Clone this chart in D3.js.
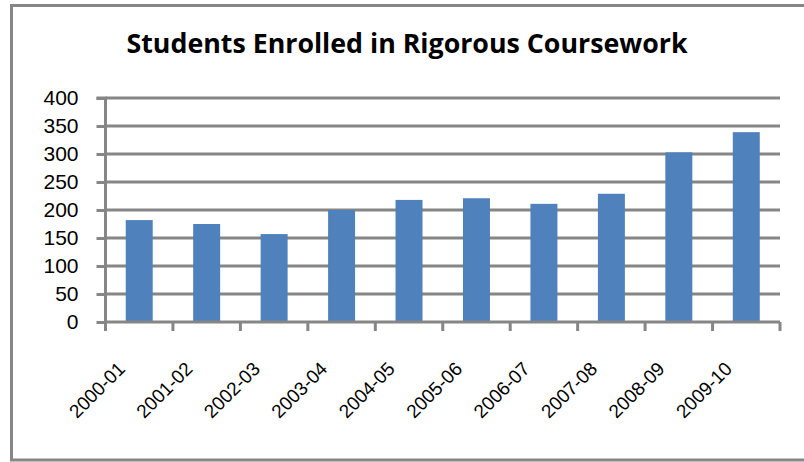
<!DOCTYPE html>
<html>
<head>
<meta charset="utf-8">
<script src="https://cdn.jsdelivr.net/npm/d3@7"></script>
<style>
  html, body { margin: 0; padding: 0; background: #fff; }
  svg { display: block; }
</style>
</head>
<body>
<svg id="chart" width="804" height="462"></svg>
<script>
const title = "Students Enrolled in Rigorous Coursework";
const categories = ["2000-01","2001-02","2002-03","2003-04","2004-05","2005-06","2006-07","2007-08","2008-09","2009-10"];
const values = [182, 175, 157, 200, 218, 221, 211, 229, 303, 339];
const yTicks = [0, 50, 100, 150, 200, 250, 300, 350, 400];

(function () {
const svg = d3.select("#chart");
const gray = "#868686";
const pLeft = 105.5, pRight = 780, pTop = 98, pBottom = 322;

// outer border
svg.append("rect")
  .attr("x", 11.5).attr("y", 5.5)
  .attr("width", 800).attr("height", 454.5)
  .attr("fill", "#fff").attr("stroke", gray).attr("stroke-width", 3);

const x = d3.scaleBand().domain(categories).range([pLeft, pRight]).paddingInner(0).paddingOuter(0);
const y = d3.scaleLinear().domain([0, 400]).range([pBottom, pTop]);

// gridlines
svg.append("g").selectAll("line").data(yTicks.filter(d => d > 0)).join("line")
  .attr("x1", pLeft).attr("x2", pRight)
  .attr("y1", d => y(d)).attr("y2", d => y(d))
  .attr("stroke", gray).attr("stroke-width", 3);

// bars
const bw = x.bandwidth() * 0.4;
svg.append("g").selectAll("rect").data(values).join("rect")
  .attr("x", (d, i) => x(categories[i]) + (x.bandwidth() - bw) / 2)
  .attr("width", bw)
  .attr("y", d => y(d))
  .attr("height", d => y(0) - y(d))
  .attr("fill", "#4F81BD");

// y axis
const yAxis = d3.axisLeft(y).tickValues(yTicks).tickSize(9).tickPadding(18).tickFormat(d3.format("d"));
const gy = svg.append("g").attr("transform", `translate(${pLeft},0)`).call(yAxis);
gy.select(".domain").attr("stroke", gray).attr("stroke-width", 3).attr("d", `M-9,${pTop}H0V${pBottom}`);
gy.selectAll(".tick line").attr("stroke", gray).attr("stroke-width", 3);
gy.selectAll(".tick text")
  .attr("fill", "#000")
  .style("font-family", "'Liberation Sans', Arial, sans-serif")
  .style("font-size", "21px");

// x axis
const boundaries = categories.map(c => x(c)).concat([pRight]);
const gx = svg.append("g");
gx.append("line").attr("x1", pLeft).attr("x2", pRight).attr("y1", pBottom).attr("y2", pBottom)
  .attr("stroke", gray).attr("stroke-width", 3);
gx.selectAll("line.tk").data(boundaries).join("line").attr("class", "tk")
  .attr("x1", d => d).attr("x2", d => d).attr("y1", pBottom).attr("y2", pBottom + 9)
  .attr("stroke", gray).attr("stroke-width", 3);
gx.selectAll("text").data(categories).join("text")
  .attr("transform", d => `translate(${x(d) + x.bandwidth() / 2 - 13},${pBottom + 48}) rotate(-45)`)
  .attr("text-anchor", "end")
  .attr("fill", "#000")
  .style("font-family", "'Liberation Sans', Arial, sans-serif")
  .style("font-size", "19px")
  .text(d => d);

// title
const t = svg.append("text")
  .attr("x", 407).attr("y", 53)
  .attr("text-anchor", "middle")
  .attr("fill", "#000")
  .style("font-family", "'Open Sans', 'Liberation Sans', sans-serif")
  .style("font-weight", "bold")
  .style("font-size", "26px")
  .text(title);
t.attr("textLength", 561).attr("lengthAdjust", "spacingAndGlyphs");
})();
</script>
</body>
</html>
